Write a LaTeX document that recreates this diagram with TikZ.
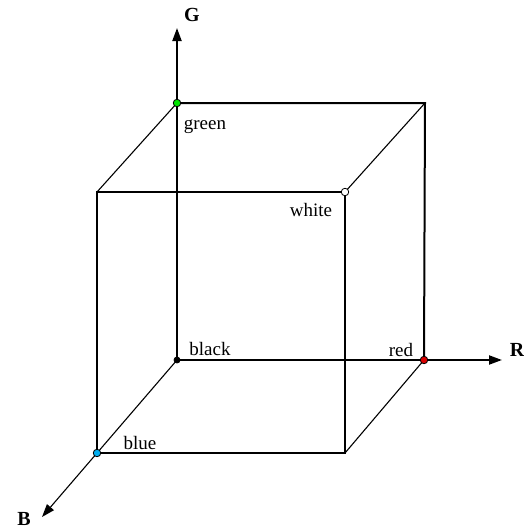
\documentclass[tikz,border=0pt]{standalone}
\usepackage{fontspec}
\setmainfont{Liberation Serif}
\usetikzlibrary{arrows.meta,positioning}
\tikzset{
  >={Triangle[length=13pt,width=9pt]},
  edge/.style={draw=black,line width=2pt},
  diag/.style={draw=black,line width=1.1pt},
  axis/.style={->,edge},
  vtx/.style={circle,draw=black,line width=0.8pt,inner sep=0pt,minimum size=7.5pt},
  lab/.style={font=\fontsize{19}{22}\selectfont,inner sep=0pt},
  axlab/.style={font=\fontsize{20}{24}\selectfont\bfseries,inner sep=0pt},
}
\begin{document}
\begin{tikzpicture}[x=1pt,y=-1pt]
\useasboundingbox (0,0) rectangle (524,531);
% cube corners
\coordinate (k) at (177,360);
\coordinate (r) at (424,360);
\coordinate (g) at (177,103);
\coordinate (b) at (97,453);
\coordinate (w) at (345,192);
\coordinate (rg) at (425,103);
\coordinate (gb) at (97,192);
\coordinate (rb) at (345,453);
\coordinate (gtip) at (177,28);
\coordinate (rtip) at (502,360);
\coordinate (btip) at (42,517);
% thin edges going back
\draw[diag] (gb)--(g); \draw[diag] (w)--(rg); \draw[diag] (rb)--(r);
\draw[diag,->] (k)--(btip);
% front face and back edges
\draw[edge] (gb) rectangle (rb);
\draw[edge] (g)--(rg)--(r);
% axes
\draw[axis] (k)--(gtip);
\draw[axis] (k)--(rtip);
% corner dots
\node[vtx,fill=black,minimum size=6pt] (black) at (k) {};
\node[vtx,fill=red!85!black] (red) at (r) {};
\node[vtx,fill=green!90!black] (green) at (g) {};
\node[vtx,fill=cyan] (blue) at (b) {};
\node[vtx,fill=white] (white) at (w) {};
% labels
\node[lab] (lblack) at (210,349) {black};
\node[lab] (lred) at (401,350) {red};
\node[lab] (lgreen) at (205,127) {green};
\node[lab] (lblue) at (140,443) {blue};
\node[lab] (lwhite) at (311,210) {white};
\node[axlab] (lg) at (192,15) {G};
\node[axlab] (lr) at (517,350) {R};
\node[axlab] (lb) at (24,519) {B};
\end{tikzpicture}
\end{document}
